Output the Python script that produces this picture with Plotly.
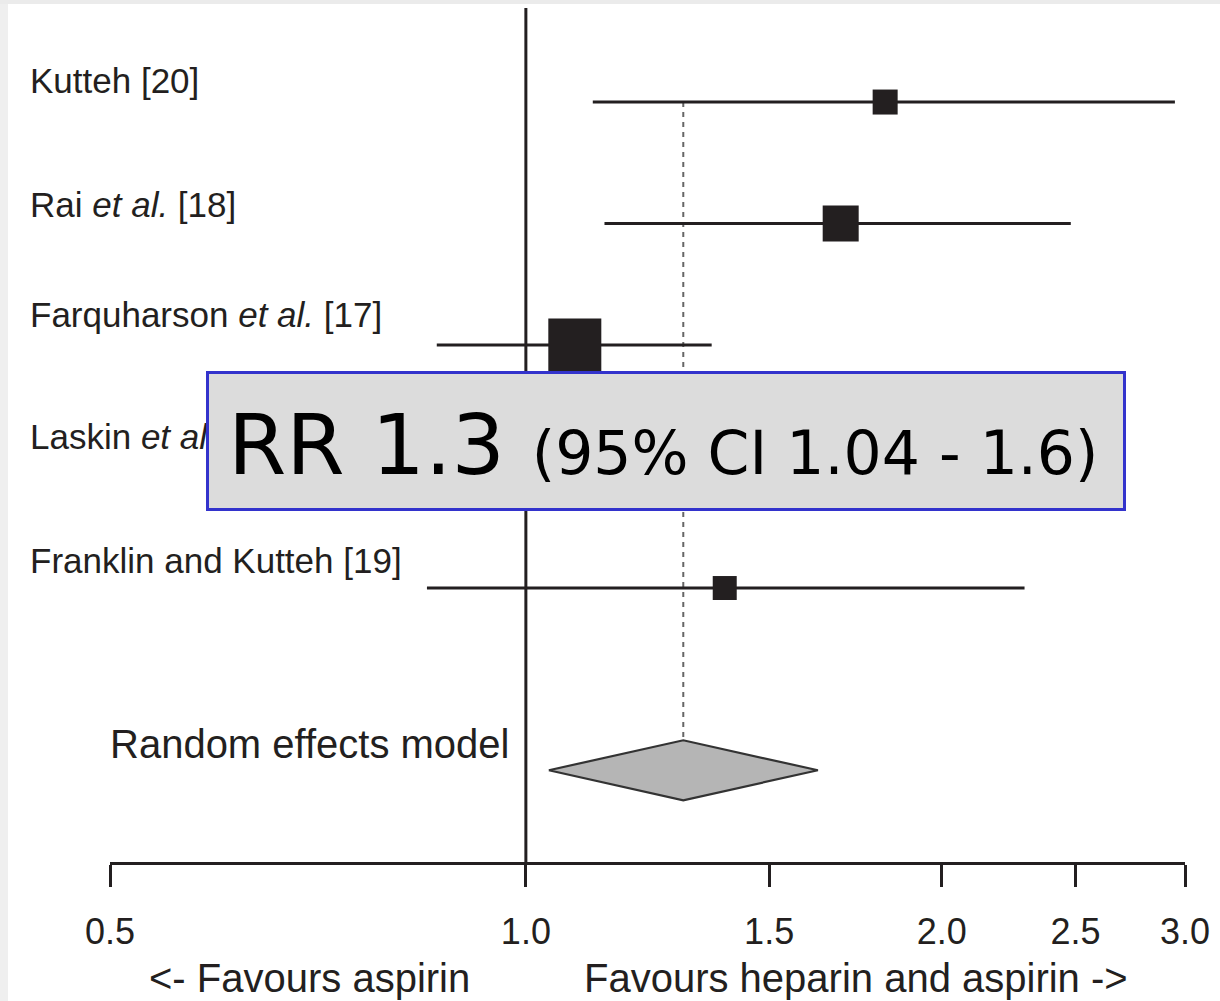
import math
import plotly.graph_objects as go

# ---------------- data ----------------
studies = ["Kutteh [20]", "Rai <i>et al.</i> [18]", "Farquharson <i>et al.</i> [17]",
           "Laskin <i>et al.</i> [16]", "Franklin and Kutteh [19]"]
rr = [1.82, 1.69, 1.085, 1.00, 1.393]
ci_low = [1.118, 1.14, 0.862, 0.80, 0.848]
ci_high = [2.95, 2.48, 1.363, 1.25, 2.296]
weights = [25, 36, 53, 40, 24]          # marker size (study weight)

pooled_label = "Random effects model"
pooled_rr = 1.30
pooled_low = 1.039
pooled_high = 1.627

tick_vals = [0.5, 1.0, 1.5, 2.0, 2.5, 3.0]
tick_text = ["0.5", "1.0", "1.5", "2.0", "2.5", "3.0"]

left_label = "<- Favours aspirin"
right_label = "Favours heparin and aspirin ->"
box_main = "RR 1.3"
box_sub = "(95% CI 1.04 - 1.6)"

# ---------------- layout constants ----------------
W, H = 1220, 1001
ML, MR, MT, MB = 110, 35, 8, 139
PW = W - ML - MR
PH = H - MT - MB
DARK = "#231f20"
LBL_FONT = "Liberation Sans, Arial, Helvetica, sans-serif"
ROW_PX = 121.5                              # pixels per row unit
label_dy_px = [-21.5, -19.5, -30.5, -30, -28]  # label offset above each row line

rows = list(range(1, len(studies) + 1))
pooled_row = len(studies) + 1.5
yrange = [7.255, 0.226]

def px_to_paper_x(px):
    return (px - ML) / PW

def px_to_paper_y(py):
    return (H - MB - py) / PH

fig = go.Figure()

# CI lines
xs, ys = [], []
for r, lo, hi in zip(rows, ci_low, ci_high):
    xs += [lo, hi, None]
    ys += [r, r, None]
fig.add_trace(go.Scatter(x=xs, y=ys, mode="lines",
                         line=dict(color=DARK, width=3), hoverinfo="skip",
                         showlegend=False))

# squares
fig.add_trace(go.Scatter(x=rr, y=rows, mode="markers",
                         marker=dict(symbol="square", size=weights, color=DARK,
                                     opacity=1, line=dict(width=0)),
                         showlegend=False))

# diamond
dh = 0.247
fig.add_trace(go.Scatter(
    x=[pooled_low, pooled_rr, pooled_high, pooled_rr, pooled_low],
    y=[pooled_row, pooled_row - dh, pooled_row, pooled_row + dh, pooled_row],
    mode="lines", fill="toself", fillcolor="#b5b5b5",
    line=dict(color="#333333", width=2.2), showlegend=False))

shapes = []
# background strips
shapes.append(dict(type="rect", xref="paper", yref="paper",
                   x0=px_to_paper_x(0), x1=px_to_paper_x(W), y0=px_to_paper_y(0), y1=px_to_paper_y(4),
                   fillcolor="#ebebeb", line=dict(width=0), layer="below"))
shapes.append(dict(type="rect", xref="paper", yref="paper",
                   x0=px_to_paper_x(0), x1=px_to_paper_x(8), y0=px_to_paper_y(4), y1=px_to_paper_y(H),
                   fillcolor="#efefef", line=dict(width=0), layer="below"))
# line of no effect
shapes.append(dict(type="line", xref="x", yref="paper", x0=1, x1=1, y0=0, y1=1,
                   line=dict(color=DARK, width=3), layer="below"))
# pooled dotted line
shapes.append(dict(type="line", xref="x", yref="y", x0=pooled_rr, x1=pooled_rr,
                   y0=rows[0], y1=pooled_row - dh,
                   line=dict(color="#666666", width=2, dash="5px,5px"), layer="below"))

annotations = []
# study labels
for r, s, dy in zip(rows, studies, label_dy_px):
    annotations.append(dict(xref="paper", yref="y", x=px_to_paper_x(28), y=r + dy / ROW_PX,
                            xanchor="left", yanchor="middle", showarrow=False, text=s,
                            font=dict(family=LBL_FONT, size=35, color=DARK)))
annotations.append(dict(xref="paper", yref="y", x=px_to_paper_x(108), y=pooled_row - 26.5 / ROW_PX,
                        xanchor="left", yanchor="middle", showarrow=False, text=pooled_label,
                        font=dict(family=LBL_FONT, size=40, color=DARK)))
# overlay box (drawn after labels so it covers them)
annotations.append(dict(xref="paper", yref="paper", x=px_to_paper_x(205.5), y=px_to_paper_y(370.5),
                        xanchor="left", yanchor="top", showarrow=False, text="&nbsp;",
                        width=914, height=134, borderpad=0, borderwidth=3,
                        bgcolor="#dcdcdc", bordercolor="#3333cc",
                        font=dict(family="DejaVu Sans", size=20, color="#dcdcdc")))
annotations.append(dict(xref="paper", yref="paper", x=px_to_paper_x(226), y=px_to_paper_y(445),
                        xanchor="left", yanchor="middle", showarrow=False,
                        text=f'{box_main} <span style="font-size:60px">{box_sub}</span>',
                        font=dict(family="DejaVu Sans", size=84, color="#000000")))
annotations.append(dict(xref="paper", yref="paper", x=px_to_paper_x(309), y=px_to_paper_y(978),
                        xanchor="center", yanchor="middle", showarrow=False,
                        text=left_label.replace("<", "&lt;"),
                        font=dict(family=LBL_FONT, size=40, color=DARK)))
annotations.append(dict(xref="paper", yref="paper", x=px_to_paper_x(856), y=px_to_paper_y(978),
                        xanchor="center", yanchor="middle", showarrow=False,
                        text=right_label.replace(">", "&gt;"),
                        font=dict(family=LBL_FONT, size=40, color=DARK)))

fig.update_layout(
    width=W, height=H,
    margin=dict(l=ML, r=MR, t=MT, b=MB, autoexpand=False),
    paper_bgcolor="white", plot_bgcolor="white",
    showlegend=False,
    shapes=shapes, annotations=annotations,
    xaxis=dict(type="log", range=[math.log10(0.5) - 1e-6, math.log10(3.0) + 1e-6],
               tickmode="array", tickvals=tick_vals, ticktext=tick_text,
               ticks="outside", ticklen=22, tickwidth=2.5, tickcolor=DARK,
               showline=True, linecolor=DARK, linewidth=3,
               showgrid=False, zeroline=False,
               tickfont=dict(family=LBL_FONT, size=36, color=DARK),
               ticklabelstandoff=14, fixedrange=True),
    yaxis=dict(range=yrange, visible=False, showgrid=False, zeroline=False, fixedrange=True),
)

fig.write_html("out.html")
